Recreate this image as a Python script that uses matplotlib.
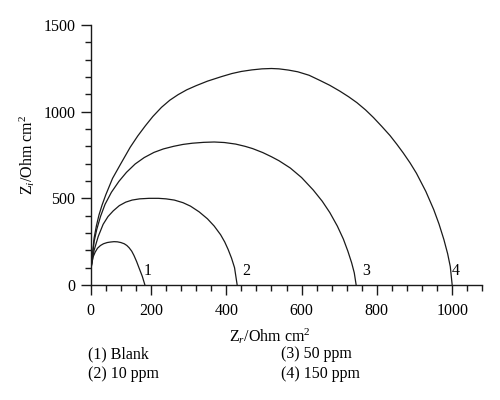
import matplotlib
matplotlib.use('Agg')
import matplotlib.pyplot as plt
from matplotlib.ticker import MultipleLocator, FixedLocator

plt.rcParams['font.family'] = ['Liberation Serif', 'DejaVu Serif']
plt.rcParams['mathtext.fontset'] = 'custom'
plt.rcParams['mathtext.rm'] = 'Liberation Serif'
plt.rcParams['mathtext.it'] = 'Liberation Serif:italic'

# curve 1: blank
blank_x = [40, 41, 46, 52, 58, 66, 74, 84, 93, 102, 111, 120, 129, 136, 142, 149, 155, 162, 169, 177, 184]
blank_y = [0, 96, 160, 190, 212, 228, 238, 245, 248, 250, 249, 245, 238, 228, 215, 195, 170, 135, 95, 50, 0]

# curve 2: 10 ppm
ppm10_x = [40, 41, 49, 60, 73, 86, 100, 116, 133, 150, 170, 195, 220, 240, 262, 285, 305, 328, 350, 368, 385, 396, 405, 414, 422, 429]
ppm10_y = [0, 100, 200, 280, 350, 395, 428, 458, 478, 490, 497, 500, 500, 497, 490, 475, 455, 422, 382, 340, 290, 248, 205, 155, 100, 0]

# curve 3: 50 ppm
ppm50_x = [40, 41, 49, 56, 66, 78, 95, 115, 135, 158, 182, 208, 233, 260, 285, 310, 340, 368, 395, 425, 450, 470, 497, 520, 540, 570, 600, 631, 655, 675, 695, 711, 723, 733, 740, 745]
ppm50_y = [0, 100, 250, 320, 395, 465, 535, 598, 650, 698, 735, 765, 785, 800, 811, 818, 823, 825, 822, 813, 800, 787, 764, 740, 717, 675, 620, 548, 483, 418, 340, 265, 195, 128, 70, 0]

# curve 4: 150 ppm
ppm150_x = [40, 41, 49, 55, 62, 70, 80, 98, 120, 145, 165, 185, 205, 228, 250, 272, 295, 320, 350, 387, 415, 440, 468, 495, 520, 540, 565, 590, 620, 649, 675, 702, 725, 747, 770, 791, 813, 835, 853, 870, 888, 905, 930, 951, 965, 978, 988, 995, 1000]
ppm150_y = [0, 100, 270, 340, 404, 460, 520, 615, 700, 795, 860, 918, 972, 1025, 1066, 1098, 1126, 1150, 1176, 1202, 1220, 1232, 1241, 1247, 1249, 1247, 1240, 1230, 1210, 1180, 1152, 1118, 1086, 1052, 1010, 966, 915, 862, 812, 762, 705, 645, 540, 435, 352, 262, 180, 106, 0]

curve_labels = ['1', '2', '3', '4']
label_x = [190, 452, 771, 1010]
label_y = [80, 80, 80, 80]

xtick_pos = [40, 200, 400, 600, 800, 1000]
xtick_lab = ['0', '200', '400', '600', '800', '1000']

legend_lines = ['(1) Blank', '(2) 10 ppm', '(3) 50 ppm', '(4) 150 ppm']

fig = plt.figure(figsize=(5, 4), dpi=100)
ax = fig.add_axes([0.1814, 0.2875, 0.7832, 0.65])

for xs, ys in [(blank_x, blank_y), (ppm10_x, ppm10_y), (ppm50_x, ppm50_y), (ppm150_x, ppm150_y)]:
    ax.plot(xs, ys, color='#1a1a1a', lw=0.9, solid_joinstyle='round')

for t, lx, ly in zip(curve_labels, label_x, label_y):
    ax.text(lx, ly, t, ha='center', va='center', fontsize=11.5)

ax.set_xlim(40, 1080)
ax.set_ylim(0, 1500)
ax.spines['top'].set_visible(False)
ax.spines['right'].set_visible(False)
for s in ['left', 'bottom']:
    ax.spines[s].set_linewidth(1.0)
    ax.spines[s].set_color('#1a1a1a')

ax.xaxis.set_major_locator(FixedLocator(xtick_pos))
ax.set_xticklabels(xtick_lab)
ax.xaxis.set_minor_locator(MultipleLocator(40))
ax.yaxis.set_major_locator(MultipleLocator(500))
ax.yaxis.set_minor_locator(MultipleLocator(100))
ax.tick_params(which='major', direction='out', length=7, width=1.0, labelsize=11.5, color='#1a1a1a')
ax.tick_params(which='minor', direction='out', length=4, width=1.0, color='#1a1a1a')
ax.tick_params(axis='x', which='major', pad=6)
ax.tick_params(axis='y', which='major', pad=4)

fig.text(270 / 500, 1 - 336 / 400, r'Z$_r$/Ohm cm$^2$', ha='center', va='center', fontsize=11.5)
fig.text(27 / 500, 1 - 155 / 400, r'Z$_i$/Ohm cm$^2$', ha='center', va='center', fontsize=11.5, rotation=90)

fig.text(88 / 500, 1 - 354 / 400, legend_lines[0], ha='left', va='center', fontsize=11.5)
fig.text(88 / 500, 1 - 374 / 400, legend_lines[1], ha='left', va='center', fontsize=11.5)
fig.text(281 / 500, 1 - 354 / 400, legend_lines[2], ha='left', va='center', fontsize=11.5)
fig.text(281 / 500, 1 - 374 / 400, legend_lines[3], ha='left', va='center', fontsize=11.5)

fig.savefig('out.png', dpi=100)
